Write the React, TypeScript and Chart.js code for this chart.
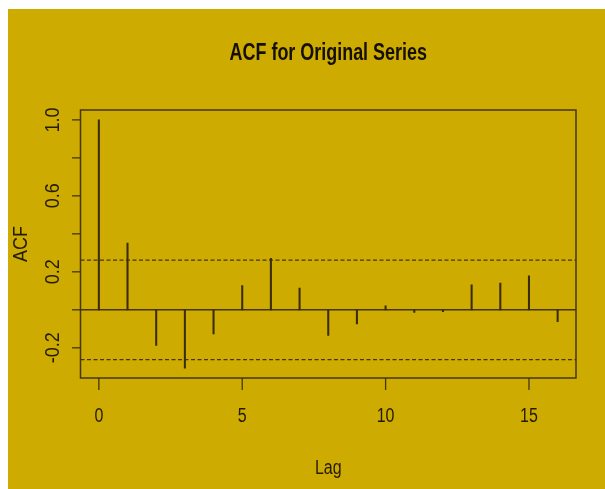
import React, { useEffect, useRef } from 'react';
import { Chart, registerables } from 'chart.js';

Chart.register(...registerables);

// ---- data ----
const lags = [0, 1, 2, 3, 4, 5, 6, 7, 8, 9, 10, 11, 12, 13, 14, 15, 16];
const acfValues = [1.0, 0.352, -0.188, -0.307, -0.127, 0.127, 0.271, 0.114, -0.135, -0.074, 0.021, -0.014, -0.01, 0.132, 0.141, 0.179, -0.062];
const ciBound = 0.262;
const xTickValues = [0, 5, 10, 15];
const xTickLabels = ['0', '5', '10', '15'];
const yTickValues = [-0.2, 0, 0.2, 0.4, 0.6, 0.8, 1.0];
const yLabelValues = [-0.2, 0.2, 0.6, 1.0];
const yLabelTexts = ['-0.2', '0.2', '0.6', '1.0'];
const xLimits = [-0.64, 16.64];
const yLimits = [-0.359, 1.052];
const titleText = 'ACF for Original Series';
const xAxisTitle = 'Lag';
const yAxisTitle = 'ACF';

const BG = '#CDAB00';
const LINE = '#45370a';
const TEXT = '#241c02';
const FONT = '"Liberation Sans", Arial, sans-serif';

function drawText(
  ctx: CanvasRenderingContext2D,
  text: string,
  x: number,
  y: number,
  font: string,
  color: string,
  sx: number,
  rotate = 0
) {
  ctx.save();
  ctx.translate(x, y);
  if (rotate) ctx.rotate(rotate);
  ctx.scale(sx, 1);
  ctx.font = font;
  ctx.fillStyle = color;
  ctx.textAlign = 'center';
  ctx.textBaseline = 'middle';
  ctx.fillText(text, 0, 0);
  ctx.restore();
}

const decorPlugin = {
  id: 'decor',
  beforeDraw(chart: any) {
    const { ctx, width, height } = chart;
    ctx.save();
    ctx.fillStyle = BG;
    ctx.fillRect(0, 0, width, height);
    ctx.restore();
  },
  beforeDatasetsDraw(chart: any) {
    const { ctx, chartArea } = chart;
    const y = chart.scales.y;
    ctx.save();
    ctx.strokeStyle = LINE;
    ctx.lineWidth = 1.4;
    ctx.beginPath();
    const y0 = y.getPixelForValue(0);
    ctx.moveTo(chartArea.left, y0);
    ctx.lineTo(chartArea.right, y0);
    ctx.stroke();
    ctx.setLineDash([4, 2.5]);
    ctx.lineWidth = 1.2;
    [ciBound, -ciBound].forEach((v) => {
      const py = y.getPixelForValue(v);
      ctx.beginPath();
      ctx.moveTo(chartArea.left, py);
      ctx.lineTo(chartArea.right, py);
      ctx.stroke();
    });
    ctx.restore();
  },
  afterDraw(chart: any) {
    const { ctx, chartArea } = chart;
    const xs = chart.scales.x;
    const ys = chart.scales.y;
    ctx.save();
    ctx.strokeStyle = LINE;
    ctx.lineWidth = 1.5;
    ctx.strokeRect(chartArea.left, chartArea.top, chartArea.right - chartArea.left, chartArea.bottom - chartArea.top);
    ctx.lineWidth = 1.3;
    xTickValues.forEach((v) => {
      const px = xs.getPixelForValue(v);
      ctx.beginPath();
      ctx.moveTo(px, chartArea.bottom);
      ctx.lineTo(px, chartArea.bottom + 12);
      ctx.stroke();
    });
    yTickValues.forEach((v) => {
      const py = ys.getPixelForValue(v);
      ctx.beginPath();
      ctx.moveTo(chartArea.left, py);
      ctx.lineTo(chartArea.left - 8.5, py);
      ctx.stroke();
    });
    ctx.restore();

    const tickFont = `20px ${FONT}`;
    xTickValues.forEach((v, i) => {
      drawText(ctx, xTickLabels[i], xs.getPixelForValue(v), chartArea.bottom + 38, tickFont, TEXT, 0.8);
    });
    yLabelValues.forEach((v, i) => {
      drawText(ctx, yLabelTexts[i], chartArea.left - 27, ys.getPixelForValue(v), tickFont, TEXT, 0.9, -Math.PI / 2);
    });
    const cx = (chartArea.left + chartArea.right) / 2;
    const cy = (chartArea.top + chartArea.bottom) / 2;
    drawText(ctx, xAxisTitle, cx, chartArea.bottom + 90, tickFont, TEXT, 0.8);
    drawText(ctx, yAxisTitle, 13, cy, tickFont, TEXT, 0.9, -Math.PI / 2);
    drawText(ctx, titleText, cx, 45, `bold 23px ${FONT}`, '#150f00', 0.78);
  },
};

export default function App() {
  const ref = useRef<HTMLCanvasElement | null>(null);
  useEffect(() => {
    if (!ref.current) return;
    const chart = new Chart(ref.current, {
      type: 'bar',
      data: {
        datasets: [
          {
            data: lags.map((l, i) => ({ x: l, y: acfValues[i] })),
            backgroundColor: '#3a2d05',
            borderWidth: 0,
            barThickness: 1.4,
          } as any,
        ],
      },
      options: {
        animation: false,
        responsive: false,
        layout: { padding: { left: 72.5, right: 29, top: 101, bottom: 111 } },
        plugins: { legend: { display: false }, tooltip: { enabled: false }, title: { display: false } },
        scales: {
          x: { type: 'linear', offset: false, min: xLimits[0], max: xLimits[1], display: false },
          y: { type: 'linear', min: yLimits[0], max: yLimits[1], display: false },
        },
      },
      plugins: [decorPlugin],
    });
    return () => chart.destroy();
  }, []);
  return (
    <div style={{ position: 'fixed', left: 8, top: 9, width: 597, height: 480 }}>
      <canvas ref={ref} width={597} height={480} style={{ display: 'block' }} />
    </div>
  );
}
